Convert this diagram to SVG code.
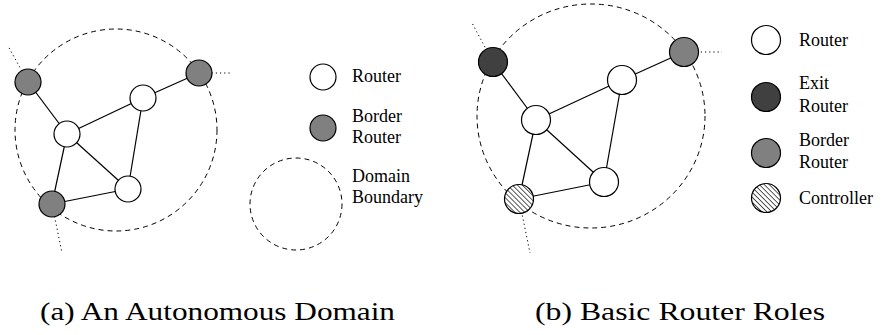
<svg xmlns="http://www.w3.org/2000/svg" width="885" height="335" viewBox="0 0 885 335">
<style>
.n{stroke:#000;stroke-width:1.2}
.r{fill:#fff}
.b{fill:#808080}
.x{fill:#404040}
.c{fill:url(#hatch)}
.e{stroke:#000;stroke-width:1.2;fill:none}
.dom{fill:none;stroke:#000;stroke-width:1;stroke-dasharray:5,4}
.dot{fill:none;stroke:#000;stroke-width:1;stroke-dasharray:1.2,3}
</style>
<defs>
<pattern id="hatch" width="3.5" height="3.5" patternUnits="userSpaceOnUse" patternTransform="rotate(-45)">
<rect width="3.5" height="3.5" fill="#fff"/>
<line x1="0" y1="0" x2="0" y2="3.5" stroke="#000" stroke-width="1.3"/>
</pattern>
</defs>
<rect width="885" height="335" fill="#fff"/>
<g id="connectors">
<circle class="dom" cx="116" cy="130" r="101"/>
<line class="dot" x1="28" y1="82" x2="8" y2="46"/>
<line class="dot" x1="199" y1="73" x2="232" y2="73"/>
<line class="dot" x1="52" y1="204" x2="62" y2="253"/>
<line class="e" x1="28" y1="82" x2="67" y2="134"/>
<line class="e" x1="67" y1="134" x2="143" y2="98"/>
<line class="e" x1="143" y1="98" x2="199" y2="73"/>
<line class="e" x1="67" y1="134" x2="128" y2="189"/>
<line class="e" x1="143" y1="98" x2="128" y2="189"/>
<line class="e" x1="67" y1="134" x2="52" y2="204"/>
<line class="e" x1="52" y1="204" x2="128" y2="189"/>
<ellipse class="dom" cx="591" cy="116" rx="114" ry="112"/>
<line class="dot" x1="493" y1="62" x2="472" y2="23"/>
<line class="dot" x1="684" y1="52" x2="722" y2="52"/>
<line class="dot" x1="519" y1="199" x2="530" y2="253"/>
<line class="e" x1="493" y1="62" x2="536" y2="120"/>
<line class="e" x1="536" y1="120" x2="622" y2="80"/>
<line class="e" x1="622" y1="80" x2="684" y2="52"/>
<line class="e" x1="536" y1="120" x2="604" y2="182"/>
<line class="e" x1="622" y1="80" x2="604" y2="182"/>
<line class="e" x1="536" y1="120" x2="519" y2="199"/>
<line class="e" x1="519" y1="199" x2="604" y2="182"/>
</g>
<g id="a-border-tl"><circle class="n b" cx="28" cy="82" r="13"/></g>
<g id="a-border-tr"><circle class="n b" cx="199" cy="73" r="13"/></g>
<g id="a-router-1"><circle class="n r" cx="67" cy="134" r="13"/></g>
<g id="a-router-2"><circle class="n r" cx="143" cy="98" r="13"/></g>
<g id="a-router-3"><circle class="n r" cx="128" cy="189" r="13"/></g>
<g id="a-border-bl"><circle class="n b" cx="52" cy="204" r="13"/></g>
<g id="a-legend" font-family="'Liberation Serif', 'Times New Roman', 'DejaVu Serif', serif" font-size="18" fill="#000">
<circle class="n r" cx="323" cy="77" r="13"/>
<text x="352" y="82">Router</text>
<circle class="n b" cx="323" cy="128" r="13"/>
<text x="352" y="122">Border</text>
<text x="352" y="143">Router</text>
<circle class="dom" cx="296" cy="204" r="46"/>
<text x="352" y="182">Domain</text>
<text x="352" y="203">Boundary</text>
</g>
<g id="b-exit"><circle class="n x" cx="493" cy="62" r="14.5"/></g>
<g id="b-border"><circle class="n b" cx="684" cy="52" r="14.5"/></g>
<g id="b-router-1"><circle class="n r" cx="622" cy="80" r="14.5"/></g>
<g id="b-router-2"><circle class="n r" cx="536" cy="120" r="14.5"/></g>
<g id="b-router-3"><circle class="n r" cx="604" cy="182" r="14.5"/></g>
<g id="b-controller"><circle class="n c" cx="519" cy="199" r="14.5"/></g>
<g id="b-legend" font-family="'Liberation Serif', 'Times New Roman', 'DejaVu Serif', serif" font-size="18" fill="#000">
<circle class="n r" cx="766" cy="40" r="14.5"/>
<text x="799" y="46">Router</text>
<circle class="n x" cx="766" cy="97" r="14.5"/>
<text x="799" y="89">Exit</text>
<text x="799" y="112">Router</text>
<circle class="n b" cx="766" cy="153" r="14.5"/>
<text x="799" y="146">Border</text>
<text x="799" y="168">Router</text>
<circle class="n c" cx="766" cy="198" r="14.5"/>
<text x="799" y="204">Controller</text>
</g>
<g id="captions" font-family="'Liberation Serif', 'Times New Roman', 'DejaVu Serif', serif" font-size="26" fill="#000">
<text x="40" y="320" textLength="355" lengthAdjust="spacingAndGlyphs">(a) An Autonomous Domain</text>
<text x="535" y="320" textLength="290" lengthAdjust="spacingAndGlyphs">(b) Basic Router Roles</text>
</g>
</svg>
